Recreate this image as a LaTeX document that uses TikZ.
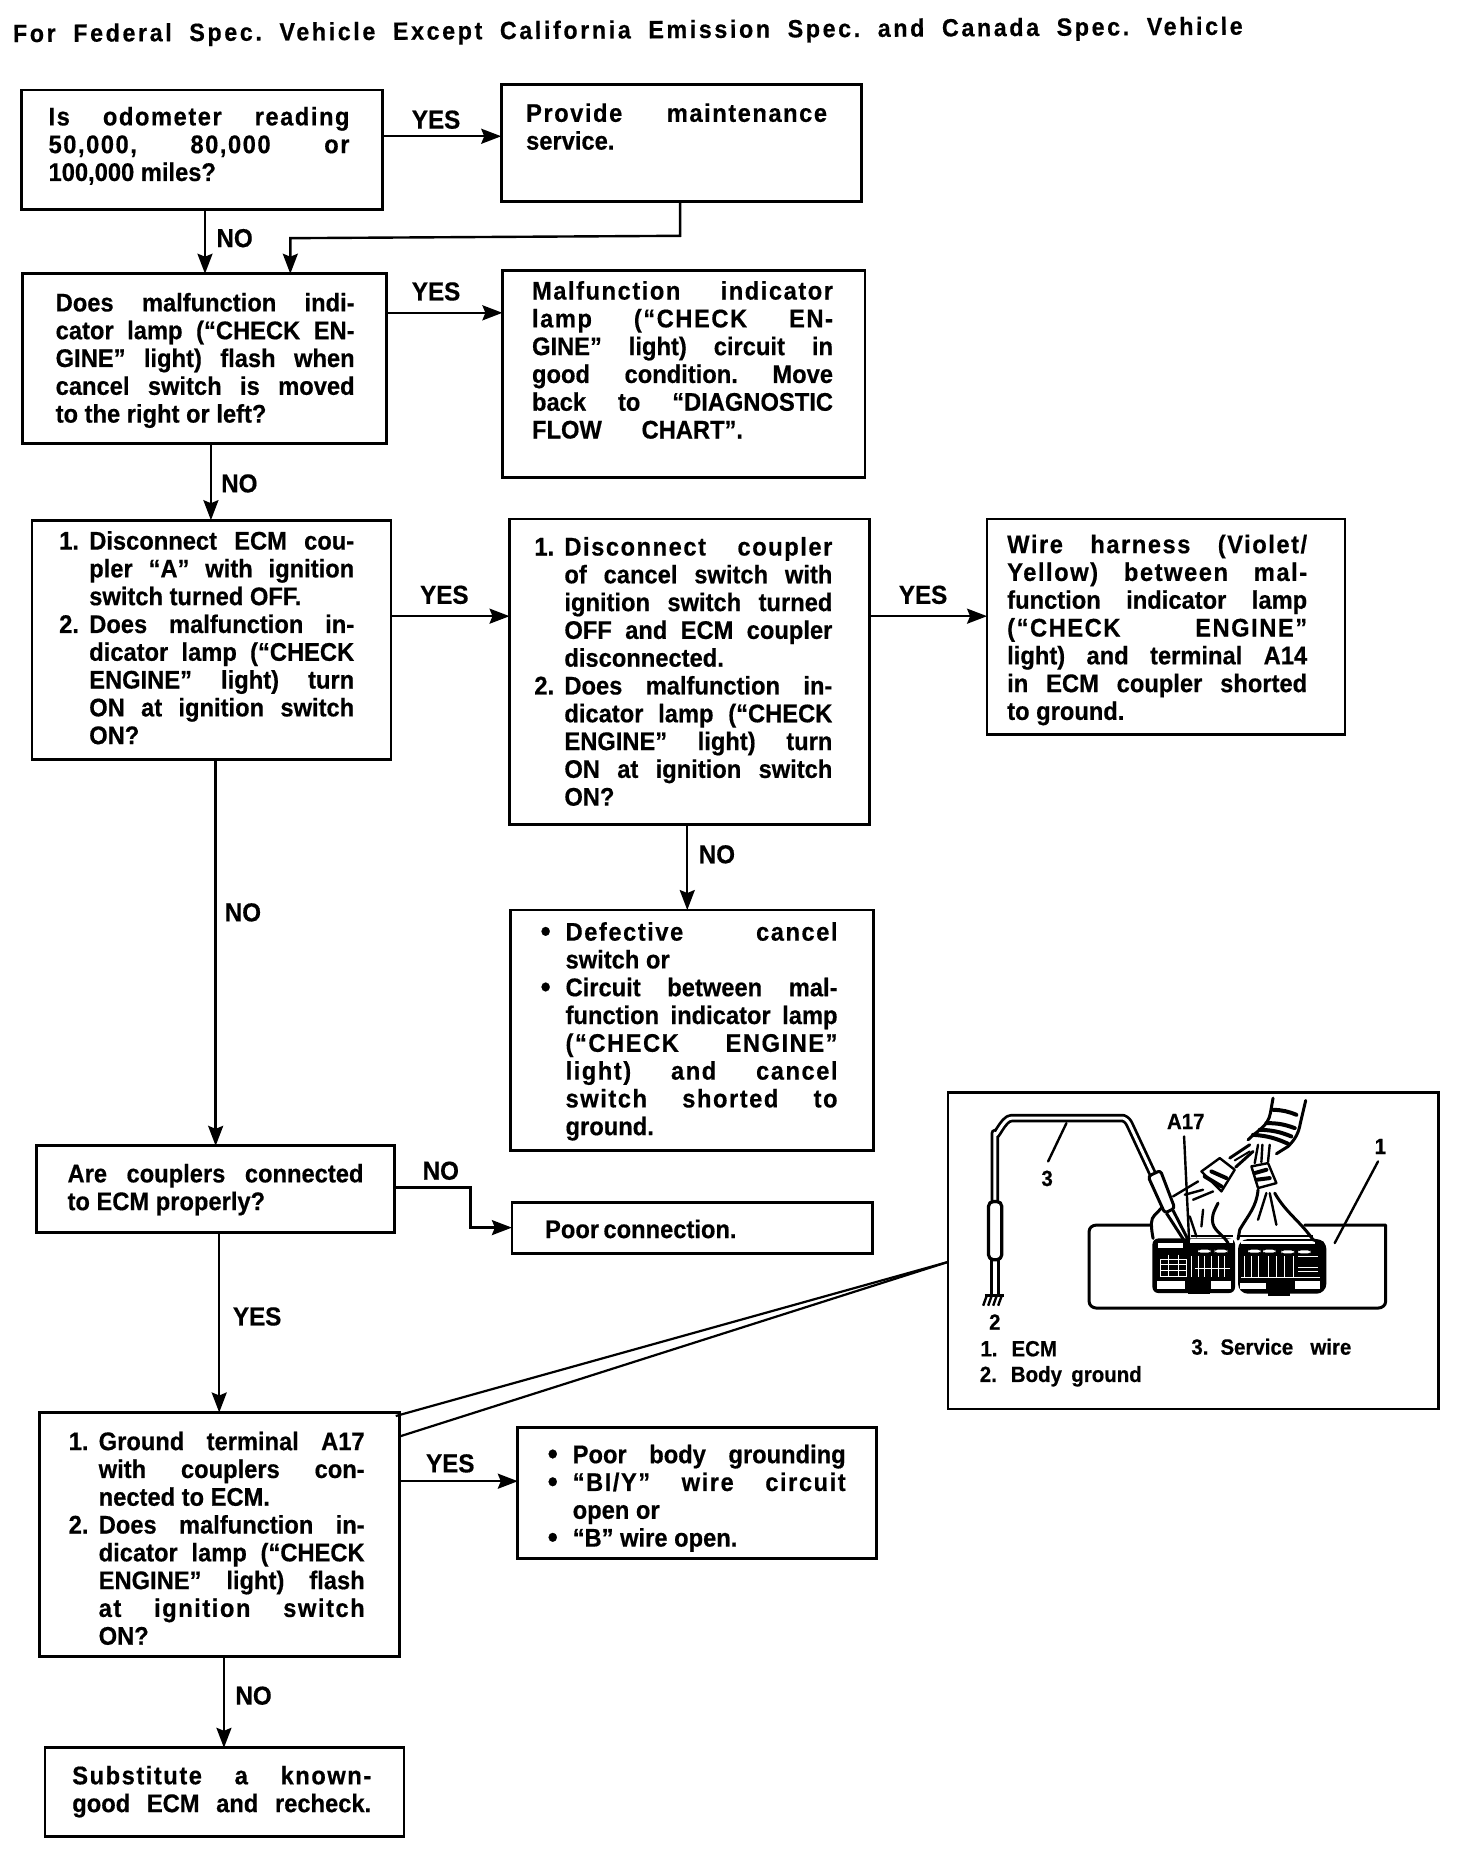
\documentclass[tikz,border=0pt]{standalone}
\usepackage{fontspec}
\setmainfont[FakeStretch=0.93,FakeBold=0.5]{Liberation Sans}
\usetikzlibrary{arrows.meta,calc}
\frenchspacing
\newlength\tw
\newcommand\ls[1]{{\addfontfeature{LetterSpace=6}#1}}
\newcommand\tl[1]{\hbox{\vrule height 19.2pt depth 6pt width 0pt #1}}
\newcommand\jl[1]{\hbox to \tw{\vrule height 19.2pt depth 6pt width 0pt #1}}
\newcommand\jlw[2]{\hbox to #1{\vrule height 19.2pt depth 6pt width 0pt #2}}
\newcommand\numl[2]{\hbox to \tw{\vrule height 19.2pt depth 6pt width 0pt \hbox to 30pt{#1\hfil}#2}}
\newcommand\numf[2]{\hbox{\vrule height 19.2pt depth 6pt width 0pt \hbox to 30pt{#1\hfil}#2}}
\newcommand\cont[1]{\hbox to \tw{\vrule height 19.2pt depth 6pt width 0pt \hskip 30pt #1}}
\newcommand\contf[1]{\hbox{\vrule height 19.2pt depth 6pt width 0pt \hskip 30pt #1}}
\newcommand\bul{\hskip 5pt\raisebox{-1pt}{\fontsize{31pt}{31pt}\selectfont•}}
\newcommand\bod[2]{\setlength\tw{#1pt}\vbox{\baselineskip=27.8pt\lineskiplimit=-100pt #2}}
\tikzset{
  x=1.18519pt,y=-1.18519pt,
  boxn/.style={draw,line width=2.8pt,inner sep=0pt,outer sep=0pt},
  txt/.style={inner sep=0pt,outer sep=0pt,anchor=north west,font=\fontsize{25.5pt}{27.8pt}\selectfont\bfseries},
  lab/.style={inner sep=0pt,outer sep=0pt,anchor=center,font=\fontsize{26pt}{28pt}\selectfont\bfseries},
  flow/.style={line width=2.4pt,-{Stealth[length=20pt,width=15pt,inset=3pt]}},
  plain/.style={line width=2.2pt},
  artline/.style={line width=2.4pt,line join=round,line cap=round},
  plab/.style={inner sep=0pt,outer sep=0pt,font=\fontsize{22pt}{24pt}\selectfont\bfseries},
}
\newcommand\bx[5]{\node[boxn,minimum width={(#4-#2)*1.18519pt},minimum height={(#5-#3)*1.18519pt}] (#1) at ({(#2+#4)/2},{(#3+#5)/2}) {};}
\begin{document}
\begin{tikzpicture}
\useasboundingbox (0,0) rectangle (1242,1568);
\fill[white] (0,0) rectangle (1242,1568);
% title
\node[txt,rotate=0.35,anchor=west] (title) at (11,30) {\fontsize{25pt}{28pt}\selectfont\setlength\tw{1230pt}\jl{\addfontfeature{LetterSpace=10.5}For Federal Spec. Vehicle Except California Emission Spec. and Canada Spec. Vehicle}};
% boxes
\bx{b1}{18}{76}{323}{177}
\bx{b2}{423}{71}{727}{170}
\bx{b3}{19}{231}{326}{374}
\bx{b4}{424}{228}{730}{403}
\bx{b5}{27}{439}{330}{641}
\bx{b6}{430}{438}{734}{696}
\bx{b7}{833}{438}{1135}{620}
\bx{b8}{431}{768}{737}{971}
\bx{b9}{31}{967}{333}{1040}
\bx{b10}{432}{1015}{736}{1058}
\bx{b11}{33}{1192}{337}{1398}
\bx{b12}{437}{1205}{740}{1315}
\bx{b13}{38}{1475}{341}{1550}
\bx{panel}{800}{922}{1214}{1189}
% texts
\node[txt] (t1) at (41,89.6) {\bod{301}{\jl{\ls{Is odometer reading}}\jl{\ls{50,000, 80,000 or}}\tl{100,000 miles?}}};
\node[txt] (t2) at (444,86.6) {\bod{301}{\jl{\ls{Provide maintenance}}\tl{service.}}};
\node[txt] (t3) at (47,246.6) {\bod{299}{\jl{Does malfunction indi-}\jl{cator lamp (“CHECK EN-}\jl{GINE” light) flash when}\jl{cancel switch is moved}\tl{to the right or left?}}};
\node[txt] (t4) at (449,236.6) {\bod{301}{\jl{\ls{Malfunction indicator}}\jl{\ls{lamp (“CHECK EN-}}\jl{GINE” light) circuit in}\jl{good condition. Move}\jl{back to “DIAGNOSTIC}\jlw{211pt}{FLOW CHART”.}}};
\node[txt] (t5) at (50,447.6) {\bod{295}{\numl{1.}{Disconnect ECM cou-}\cont{pler “A” with ignition}\contf{switch turned OFF.}\numl{2.}{Does malfunction in-}\cont{dicator lamp (“CHECK}\cont{ENGINE” light) turn}\cont{ON at ignition switch}\contf{ON?}}};
\node[txt] (t6) at (451,452.6) {\bod{298}{\numl{1.}{\ls{Disconnect coupler}}\cont{of cancel switch with}\cont{ignition switch turned}\cont{OFF and ECM coupler}\contf{disconnected.}\numl{2.}{Does malfunction in-}\cont{dicator lamp (“CHECK}\cont{ENGINE” light) turn}\cont{ON at ignition switch}\contf{ON?}}};
\node[txt] (t7) at (850,450.6) {\bod{300}{\jl{\ls{Wire harness (Violet/}}\jl{\ls{Yellow) between mal-}}\jl{function indicator lamp}\jl{\ls{(“CHECK ENGINE”}}\jl{light) and terminal A14}\jl{in ECM coupler shorted}\tl{to ground.}}};
\node[txt] (t8) at (452,777.6) {\bod{302}{\numl{\bul}{\ls{Defective cancel}}\contf{switch or}\numl{\bul}{Circuit between mal-}\cont{function indicator lamp}\cont{\ls{(“CHECK ENGINE”}}\cont{\ls{light) and cancel}}\cont{\ls{switch shorted to}}\contf{ground.}}};
\node[txt] (t9) at (57,981.6) {\bod{296}{\jl{Are couplers connected}\tl{to ECM properly?}}};
\node[txt] (t10) at (460,1028.6) {\bod{191}{\jl{Poor connection.}}};
\node[txt] (t11) at (58,1207.6) {\bod{296}{\numl{1.}{Ground terminal A17}\cont{with couplers con-}\contf{nected to ECM.}\numl{2.}{Does malfunction in-}\cont{dicator lamp (“CHECK}\cont{ENGINE” light) flash}\cont{\ls{at ignition switch}}\contf{ON?}}};
\node[txt] (t12) at (458,1218.6) {\bod{303}{\numl{\bul}{Poor body grounding}\numl{\bul}{\ls{“BI/Y” wire circuit}}\contf{open or}\numf{\bul}{“B” wire open.}}};
\node[txt] (t13) at (61,1489.6) {\bod{299}{\jl{\ls{Substitute a known-}}\jl{good ECM and recheck.}}};
% connectors
\draw[flow] (b1.east |- 0,115) -- (b2.west |- 0,115);
\draw[flow] (173,177) -- (173,231);
\draw[flow] (574,170) -- (574,199) -- (245,201) -- (245,231);
\draw[flow] (b3.east |- 0,264) -- (b4.west |- 0,264);
\draw[flow] (178,374) -- (178,439);
\draw[flow] (b5.east |- 0,520) -- (b6.west |- 0,520);
\draw[flow] (b6.east |- 0,520) -- (b7.west |- 0,520);
\draw[flow] (580,696) -- (580,768);
\draw[flow] (182,641) -- (182,967);
\draw[flow] (b9.east |- 0,1002) -- (397,1002) -- (397,1036) -- (b10.west |- 0,1036);
\draw[flow] (185,1040) -- (185,1192);
\draw[flow] (b11.east |- 0,1250) -- (b12.west |- 0,1250);
\draw[flow] (189,1398) -- (189,1475);
\coordinate (la1) at (800,1065);
\coordinate (la2) at (334,1195);
\coordinate (la3) at (338,1212);
\draw[plain] (la2) -- (la1);
\draw[plain] (la3) -- (la1);
% yes/no
\node[lab] (l1) at (368,101) {YES};
\node[lab] (l2) at (198,201) {NO};
\node[lab] (l3) at (368,246) {YES};
\node[lab] (l4) at (202,408) {NO};
\node[lab] (l5) at (375,502) {YES};
\node[lab] (l6) at (779,502) {YES};
\node[lab] (l7) at (605,721) {NO};
\node[lab] (l8) at (205,770) {NO};
\node[lab] (l9) at (372,988) {NO};
\node[lab] (l10) at (217,1111) {YES};
\node[lab] (l11) at (380,1235) {YES};
\node[lab] (l12) at (214,1431) {NO};
% illustration in zoom coordinates
\begin{scope}[shift={(793.125,911.25)},x=0.3333pt,y=-0.3333pt]
  % ecm outline
  \draw[artline,line width=3pt] (635,436) -- (470,436) to[out=180,in=90] (448,455) -- (448,665) to[out=-90,in=180] (470,685) -- (1315,685) to[out=0,in=-90] (1338,665) -- (1338,436) -- (1095,436);
  % service wire
  \draw[line width=8.5pt,line join=round] (165,370) -- (165,160) to[out=-90,in=180] (215,115) -- (550,115) to[out=-20,in=115] (570,135) -- (640,285);
  \draw[white,line width=3pt,line join=round] (165,370) -- (165,160) to[out=-90,in=180] (215,115) -- (550,115) to[out=-20,in=115] (570,135) -- (640,285);
  % probe
  \draw[artline,line width=3pt,rounded corners=3pt,fill=white] (625,290) -- (662,272) -- (705,385) -- (675,400) -- cycle;
  \draw[line width=3pt] (680,400) -- (738,490);
  \draw[line width=3pt] (700,392) -- (750,490);
  % inline element and ground
  \draw[artline,line width=3.2pt,rounded corners=5pt] (146,365) rectangle (186,540);
  \draw[line width=3pt] (155,540) -- (155,642);
  \draw[line width=3pt] (176,540) -- (176,642);
  \draw[line width=2.6pt] (135,648) -- (194,648);
  \foreach \gx in {140,155,170,185} {\draw[line width=2.4pt] (\gx,650) -- (\gx-10,678);}
  % connector
  \fill[black,rounded corners=6pt] (638,476) rectangle (886,640);
  \fill[black,rounded corners=10pt] (895,478) rectangle (1160,642);
  \fill[black] (745,630) rectangle (810,642);
  \fill[black] (985,635) rectangle (1050,648);
  \fill[white] (655,490) rectangle (730,505);
  \fill[white] (750,478) -- (880,478) -- (880,490) -- (750,490) -- cycle;
  \fill[black] (755,465) rectangle (880,473);
  \fill[black] (900,465) rectangle (1120,473);
  \fill[white] (905,484) rectangle (1125,492);
  \fill[white] (652,603) rectangle (735,628);
  \fill[white] (815,605) rectangle (875,628);
  \fill[white] (900,610) rectangle (980,628);
  \fill[white] (1065,605) rectangle (1140,628);
  \foreach \px/\py in {775/510,825/510,925/510,970/510,1025/512,1075/512}{\fill[white,rounded corners=3pt] (\px,\py) rectangle ++(38,9);}
  % mesh of terminals
  \draw[white,line width=1pt] (662,540) rectangle (740,590);
  \foreach \my in {555,572}{\draw[white,line width=.9pt] (662,\my) -- (740,\my);}
  \foreach \mx in {685,715}{\draw[white,line width=.9pt] (\mx,525) -- (\mx,590);}
  \foreach \cx in {755,775,795,815,835,855}{\draw[white,line width=1pt] (\cx,530) -- (\cx,592);}
  \draw[white,line width=1pt] (765,565) -- (870,565);
  \foreach \cx in {915,935,955,985,1010,1035,1060}{\draw[white,line width=1.1pt] (\cx,530) -- (\cx,592);}
  \draw[white,line width=1pt] (905,592) -- (1140,592);
  \draw[white,line width=1pt] (1075,530) -- (1135,530);
  \draw[white,line width=1pt] (1075,562) -- (1135,562);
  \draw[white,line width=1pt] (1075,575) -- (1135,575);
  \draw[white,line width=.9pt] (890,480) -- (890,640);
  % wire bundles
  \draw[artline,line width=3pt] (640,476) to[out=100,in=-90] (635,430) to[out=90,in=-130] (665,385);
  \draw[artline] (700,350) -- (775,305);
  \draw[artline] (750,410) -- (770,470);
  \draw[artline] (790,390) -- (785,440);
  \draw[artline] (735,345) -- (790,330);
  \draw[artline] (760,360) -- (820,335);
  \draw[artline,line width=3pt] (835,370) to[out=-115,in=90] (818,420) to[out=-90,in=120] (865,490);
  \draw[artline,line width=3pt] (955,330) to[out=-95,in=60] (900,450) -- (895,478);
  \draw[artline,line width=3pt] (1005,340) to[out=-60,in=125] (1120,480) -- (1150,490);
  \draw[artline] (980,340) -- (955,420);
  \draw[artline] (990,340) -- (1010,435);
  % left sleeve
  \draw[artline,fill=white] (785,275) -- (840,235) -- (885,270) -- (845,335) -- cycle;
  \draw[artline,line width=4pt] (795,290) -- (845,320);
  \draw[artline,line width=4pt] (815,275) -- (860,295);
  \draw[artline,line width=3pt] (870,235) -- (930,195);
  \draw[artline,line width=3pt] (888,262) -- (940,215);
  \draw[artline,line width=2pt] (885,242) -- (930,215);
  % right sleeve
  \draw[artline,fill=white] (935,260) -- (985,250) -- (1010,310) -- (955,325) -- cycle;
  \draw[artline,line width=4pt] (945,280) -- (980,270);
  \draw[artline,line width=4pt] (950,300) -- (990,295);
  \draw[artline] (945,250) -- (955,195);
  \draw[artline] (965,247) -- (968,195);
  \draw[artline] (985,245) -- (990,195);
  % upper harness
  \draw[artline,line width=3pt] (1000,55) -- (992,100) to[out=-100,in=45] (925,180);
  \draw[artline,line width=3pt] (1098,62) -- (1082,130) to[out=-100,in=45] (1045,200) -- (1010,222);
  \draw[artline,line width=4pt] (1000,90) to[bend left=10] (1070,105);
  \draw[artline,line width=4pt] (980,130) to[bend left=10] (1065,145);
  \draw[artline,line width=4pt] (960,150) to[bend left=10] (1055,170);
  \draw[artline,line width=4pt] (940,165) to[bend left=10] (1045,192);
  % leaders
  \draw[artline] (380,130) -- (325,245);
  \draw[artline] (733,170) -- (748,480);
  \draw[artline] (1315,245) -- (1185,490);
  % labels
  \node[plab,anchor=center] (pa17) at (738,125) {A17};
  \node[plab,anchor=center] (p3) at (322,296) {3};
  \node[plab,anchor=center] (p1) at (1322,200) {1};
  \node[plab,anchor=center] (p2) at (165,727) {2};
  \node[plab,anchor=west] (pe) at (122,810) {\setlength\tw{78pt}\jl{1.\hskip 14pt ECM}};
  \node[plab,anchor=west] (pb) at (120,887) {\setlength\tw{162pt}\jl{2.\hskip 14pt Body ground}};
  \node[plab,anchor=west] (ps) at (755,805) {\setlength\tw{160pt}\jl{3.\hskip 12pt Service wire}};
\end{scope}
\end{tikzpicture}
\end{document}
